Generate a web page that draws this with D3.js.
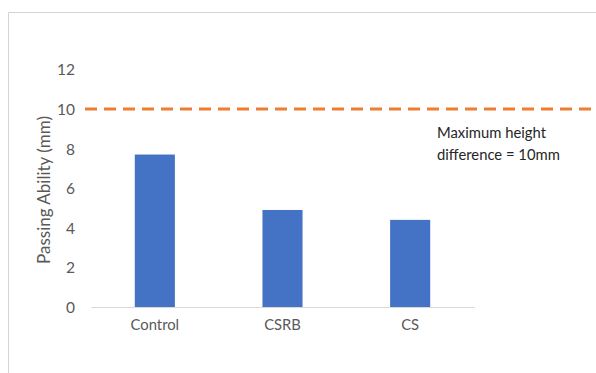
<!DOCTYPE html>
<html>
<head>
<meta charset="utf-8">
<script src="https://cdn.jsdelivr.net/npm/d3@7"></script>
<style>
  html, body { margin: 0; padding: 0; background: #fff; }
  svg { display: block; }
  text { font-family: Lato, "Open Sans", sans-serif; }
</style>
</head>
<body>
<svg id="chart" width="596" height="373"></svg>
<script>
// Passing ability per mix
const categories = ["Control", "CSRB", "CS"];
const passingAbility = [7.7, 4.9, 4.4];
const yTicks = [0, 2, 4, 6, 8, 10, 12];
const limitValue = 10;
const limitLabel = ["Maximum height", "difference = 10mm"];
const yTitle = "Passing Ability (mm)";

const W = 596, H = 373;
const svg = d3.select("#chart");

// chart area frame
svg.append("path")
  .attr("d", `M8.5,${H} V12.5 H${W}`)
  .attr("fill", "none")
  .attr("stroke", "#d4d4d4")
  .attr("stroke-width", 1);

const plot = { left: 91, right: 474, top: 69.4, bottom: 307 };

const x = d3.scaleBand()
  .domain(categories)
  .range([plot.left, plot.right])
  .paddingInner(0.686)
  .paddingOuter(0.343);

const y = d3.scaleLinear()
  .domain([0, 12])
  .range([plot.bottom, plot.top]);

// y axis labels (no line, no ticks)
const yAxis = d3.axisLeft(y).tickValues(yTicks).tickSize(0).tickPadding(0);
const gy = svg.append("g")
  .attr("transform", `translate(${plot.left - 16},0)`)
  .call(yAxis);
gy.select(".domain").remove();
gy.selectAll("text")
  .attr("fill", "#595959")
  .style("font-size", "15.5px")
  .attr("dy", "0.36em");

// x axis: baseline plus category labels
const xAxis = d3.axisBottom(x).tickSize(0).tickPadding(12);
const gx = svg.append("g")
  .attr("transform", `translate(0,${plot.bottom})`)
  .call(xAxis);
gx.select(".domain").attr("stroke", "#d9d9d9").attr("stroke-width", 1.2);
gx.selectAll("text")
  .attr("fill", "#595959")
  .style("font-size", "14.8px");

// bars
svg.append("g")
  .selectAll("rect")
  .data(categories.map((c, i) => ({ c, v: passingAbility[i] })))
  .join("rect")
  .attr("x", d => x(d.c))
  .attr("width", x.bandwidth())
  .attr("y", d => y(d.v))
  .attr("height", d => y(0) - y(d.v))
  .attr("fill", "#4472C4");

// limit line
svg.append("line")
  .attr("x1", 85)
  .attr("x2", W)
  .attr("y1", y(limitValue))
  .attr("y2", y(limitValue))
  .attr("stroke", "#ED7D31")
  .attr("stroke-width", 3)
  .attr("stroke-dasharray", "12,7");

// limit annotation
const note = svg.append("text")
  .attr("x", 437)
  .attr("y", 138)
  .attr("fill", "#262626")
  .style("font-size", "14.8px");
note.selectAll("tspan")
  .data(limitLabel)
  .join("tspan")
  .attr("x", 437)
  .attr("dy", (d, i) => i === 0 ? 0 : 22)
  .text(d => d);

// y axis title
svg.append("text")
  .attr("transform", `translate(50,190) rotate(-90)`)
  .attr("text-anchor", "middle")
  .attr("fill", "#595959")
  .style("font-size", "17px")
  .text(yTitle);
</script>
</body>
</html>
